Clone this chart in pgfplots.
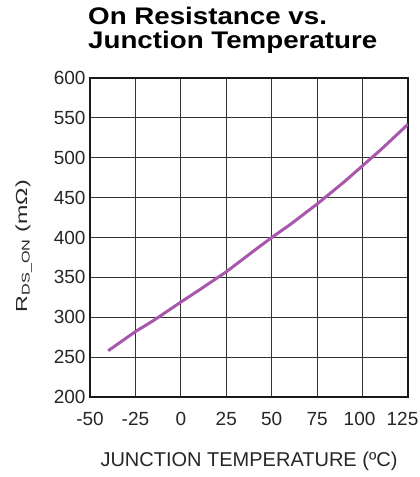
\documentclass[border=0pt]{standalone}
\usepackage{pgfplots}
\pgfplotsset{compat=1.18}
\usepackage{fontspec}
\setmainfont{Liberation Sans}
\definecolor{curve}{RGB}{168,88,172}
\begin{document}
\begin{tikzpicture}
\path[use as bounding box] (-90bp,-80bp) rectangle (330bp,397bp);
\node[anchor=base west, inner sep=0pt, font=\bfseries\fontsize{24bp}{24bp}\selectfont] at (-2bp,372bp) {\scalebox{1.155}[1]{On Resistance vs.}};
\node[anchor=base west, inner sep=0pt, font=\bfseries\fontsize{24bp}{24bp}\selectfont] at (-2bp,348bp) {\scalebox{1.155}[1]{Junction Temperature}};
\begin{axis}[
  at={(0,0)}, anchor=south west,
  scale only axis, width=318bp, height=319bp,
  xmin=-50, xmax=125, ymin=200, ymax=600,
  xtick={-50,-25,0,25,50,75,100,125},
  xticklabels={-50,-25,0,25,50,75,\makebox[0pt]{100\hspace{6bp}},\makebox[0pt]{125\hspace{11bp}}},
  ytick={200,250,300,350,400,450,500,550,600},
  yticklabels={200,250,300,350,400,450,500,550,600},
  grid=major,
  major grid style={line width=1.2bp, color=black!80},
  axis line style={line width=2bp, color=black!90},
  tick style={draw=none},
  ticklabel style={font=\fontsize{19bp}{19bp}\selectfont, text=black!85},
  xticklabel style={yshift=-12bp},
  yticklabel style={xshift=-1bp},
  xlabel={JUNCTION TEMPERATURE (ºC)},
  xlabel style={at={(axis description cs:0.5,-0.2194)}, anchor=base, font=\fontsize{20bp}{20bp}\selectfont, text=black!85},
  ylabel={\scalebox{1.45}[1]{R\textsubscript{DS\_ON} (mΩ)}},
  ylabel style={at={(axis description cs:-0.198,0.473)}, anchor=base, font=\fontsize{16bp}{16bp}\selectfont, text=black!85},
]
\addplot[curve, line width=3bp] coordinates {
(-40,258) (-30,274) (-25,282) (-15,296) (0,319) (10,334) (25,357) (40,383)
(50,400) (60,416) (75,442) (90,470) (100,490) (110,510) (125,542)
};
\end{axis}
\end{tikzpicture}
\end{document}
